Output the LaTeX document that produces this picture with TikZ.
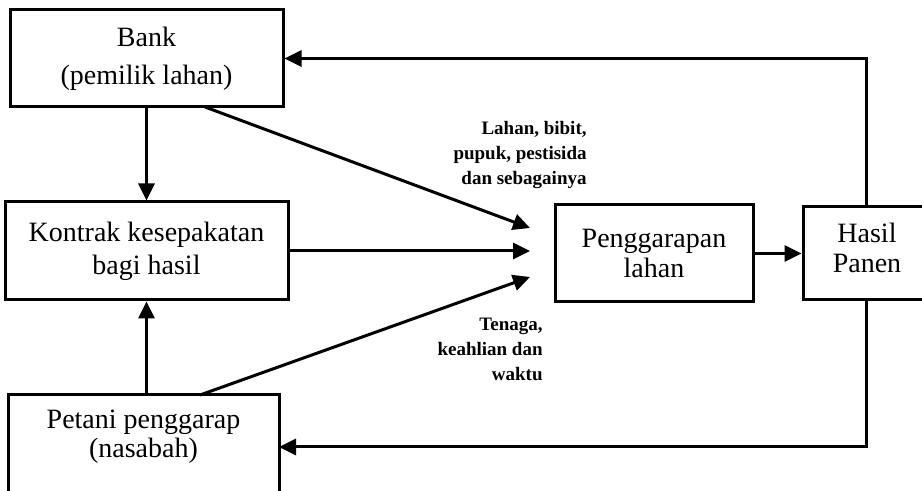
\documentclass[tikz,border=0pt]{standalone}
\usepackage{fontspec}
\setmainfont{Liberation Serif}
\usetikzlibrary{arrows.meta}
\begin{document}
\begin{tikzpicture}[x=0.5pt,y=-0.5pt,
  box/.style={draw, line width=1.5pt, inner sep=0pt, align=center},
  lbl/.style={align=right, inner sep=0pt, font=\bfseries\fontsize{9.5}{12.5}\selectfont},
  arr/.style={line width=1.5pt, -{Triangle[length=8.5pt,width=8pt]}}]
\useasboundingbox (0,0) rectangle (922,491);
\clip (0,0) rectangle (922,491);
% boxes
\node[box, minimum width=136.5pt, minimum height=48.5pt, font=\fontsize{14}{19}\selectfont]
  (bank) at (146.5,58.5) {Bank\\(pemilik lahan)};
\node[box, minimum width=141.5pt, minimum height=49pt, font=\fontsize{14}{16.5}\selectfont]
  (kontrak) at (146.5,251) {Kontrak kesepakatan\\bagi hasil};
\node[box, minimum width=135.5pt, minimum height=72.5pt] (petani) at (143.5,467.5) {};
\node[align=center, inner sep=0pt, font=\fontsize{14}{14.5}\selectfont]
  (petanitxt) at (143.5,437) {Petani penggarap\\(nasabah)};
\node[box, minimum width=99pt, minimum height=48.5pt, font=\fontsize{14}{15}\selectfont]
  (pengg) at (654,253.5) {Penggarapan\\lahan};
\node[box, minimum width=78.5pt, minimum height=46.5pt] (hasil) at (881.5,253.5) {};
\node[align=center, inner sep=0pt, font=\fontsize{14}{15}\selectfont]
  (hasiltxt) at (867,248) {Hasil\\Panen};
% labels
\node[lbl, anchor=east] (lahanlbl) at (587,155.5) {Lahan, bibit,\\pupuk, pestisida\\dan sebagainya};
\node[lbl, anchor=east] (tenagalbl) at (543,349) {Tenaga,\\keahlian dan\\waktu};
% connector points
\coordinate (e1) at (530,228);
\coordinate (e2) at (530,251);
\coordinate (e3) at (530,277);
\coordinate (bd) at (205,107);
\coordinate (pu) at (200,395);
\coordinate (h1) at (866,207);
\coordinate (h2) at (866,300);
\coordinate (pe) at (279,447);
% connectors
\draw[arr] (bank.south) -- (kontrak.north);
\draw[arr] (petani.north -| kontrak.south) -- (kontrak.south);
\draw[arr] (bd) -- (e1);
\draw[arr] (kontrak.east) -- (e2);
\draw[arr] (pu) -- (e3);
\draw[arr] (pengg.east) -- (hasil.west);
\draw[arr] (h1) |- (bank.east);
\draw[arr] (h2) |- (pe);
\end{tikzpicture}
\end{document}
